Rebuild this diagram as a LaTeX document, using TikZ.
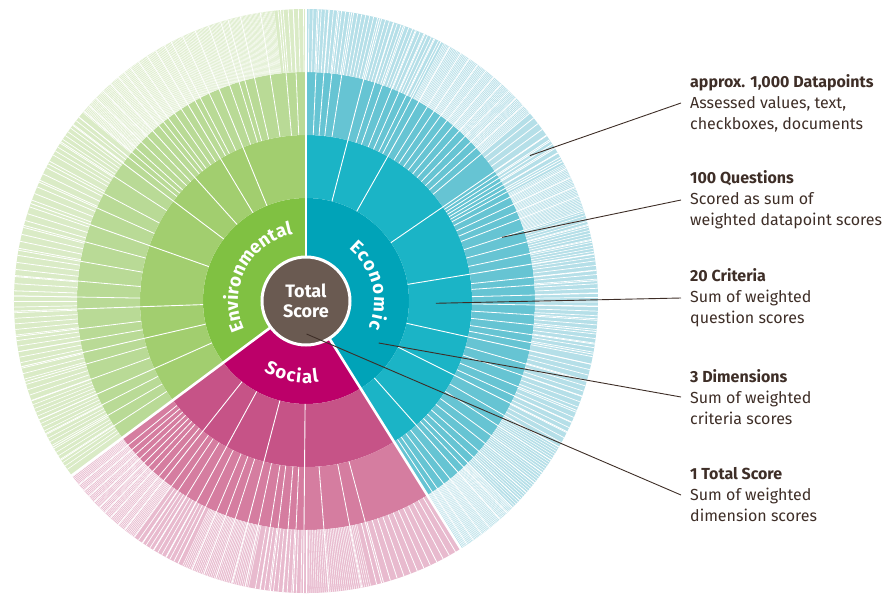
\documentclass[tikz,border=0pt]{standalone}
\usepackage{fontspec}
\setmainfont{Fira Sans}
\usepackage{tikz}
\usetikzlibrary{calc, positioning, decorations.text}
\definecolor{ecoDim}{HTML}{00A3B8}
\definecolor{ecoCrit}{HTML}{1BB4C6}
\definecolor{ecoQuest}{HTML}{66C4D3}
\definecolor{ecoData}{HTML}{B5DFE8}
\definecolor{envDim}{HTML}{80C142}
\definecolor{envCrit}{HTML}{A2CE6F}
\definecolor{envQuest}{HTML}{B9DA96}
\definecolor{envData}{HTML}{DAEBC6}
\definecolor{socDim}{HTML}{BC0069}
\definecolor{socCrit}{HTML}{C65387}
\definecolor{socQuest}{HTML}{D57DA0}
\definecolor{socData}{HTML}{E8BACE}
\definecolor{scorebrown}{HTML}{6A5A51}
\definecolor{inkbrown}{HTML}{3E2E27}
\newcommand{\dimfont}{\bfseries\fontsize{18.5}{18.5}\selectfont}
\newcommand{\ringsector}[5]{% from, to, inner, outer, colour
  \fill[fill=#5] (#1:#3) arc[start angle=#1, end angle=#2, radius=#3]
    -- (#2:#4) arc[start angle=#2, end angle=#1, radius=#4] -- cycle;}

\begin{document}
\begin{tikzpicture}[x=1pt, y=1pt, font=\fontsize{16}{21}\selectfont,
  cut/.style={white, line width=#1},
  lbl/.style={anchor=west, align=left, inner sep=0pt, text=inkbrown},
  leader/.style={inkbrown, line width=0.9pt}]
  \useasboundingbox (-306,-294) rectangle (578,301);
  % rings: dimension, criteria, questions, datapoints
  \foreach \fa/\ta/\dm in {-58/90/eco, 90/216.7/env, -143.3/-58/soc}{
    \ringsector{\fa}{\ta}{30}{103}{\dm Dim}
    \ringsector{\fa}{\ta}{103}{166}{\dm Crit}
    \ringsector{\fa}{\ta}{166}{229}{\dm Quest}
    \ringsector{\fa}{\ta}{229}{292}{\dm Data}
  }
  % datapoint hairlines
  \foreach \fa/\ta/\st/\lw in {-143/-126/0.3/0.45, -125/-116/0.9/0.7, -115/-101/0.35/0.45,
      -100/-91/0.9/0.7, -90/-77/0.4/0.45, -76/-59/1.4/0.8,
      -57.5/-45/0.25/0.45, -44.5/-30/0.5/0.5, -29/-12/1.1/0.7, -11/8/0.9/0.7,
      8.6/18/0.6/0.6, 18.3/28/0.3/0.45, 29/40/1.4/0.8, 40.3/62/0.3/0.45, 63/89.5/0.8/0.7,
      90.5/96/1.0/0.7, 96.3/140/0.25/0.4, 141/150/0.9/0.7, 151.4/178/1.4/0.8,
      179/200/1.1/0.7, 200.8/216/0.8/0.6}{
    \pgfmathsetmacro{\nx}{\fa+\st}
    \foreach \a in {\fa,\nx,...,\ta} \draw[cut=\lw pt] (\a:229) -- (\a:292);
  }
  % question boundaries
  \foreach \a in {87.5, 85.5, 83.5, 81, 72.5, 70.5, 68, 66, 64, 62.5, 58, 56, 54, 52, 50,
      48, 46, 44, 42, 40, 33.5, 32.5, 31.5, 30.5, 29.5, 28.5, 27, 25, 23, 21, 18, 15, 12,
      6, 4, 1.5, -1, -3.5, -6, -8.5, -10.5, -16, -19, -22, -24.5, -30, -33, -36, -38.5,
      -41, -43, -45, -46.5, -51, -53, -55, -56.5,
      92.5, 95, 99, 103, 105.5, 107, 109.5, 115, 117.5, 119, 123, 125, 127, 128.5, 130,
      134, 136, 138, 139.5, 141, 147, 152, 156, 165, 170, 175, 179, 187, 190, 196, 200,
      207, 210, 213,
      -141, -139.5, -138, -136.5, -135, -133.5, -132, -130, -126, -124, -121.5, -116,
      -113, -110.5, -108, -102, -99, -97, -94.5, -92.5, -85.5, -79, -75}
    \draw[cut=0.8pt] (\a:166) -- (\a:292);
  % criteria boundaries
  \foreach \a in {75.4, 60.5, 34.5, 9.3, -12.5, -26.6, -48.4,
      112.3, 121, 132, 143, 160.5, 182, 193, 204,
      -128.4, -118.6, -104.7, -90.5}
    \draw[cut=0.9pt] (\a:103) -- (\a:292);
  % dimension boundaries
  \foreach \a in {90, -58, 216.7}
    \draw[cut=2.6pt] (0,0) -- (\a:294);

  \node[circle, fill=scorebrown, draw=white, line width=3pt, minimum size=88pt,
    inner sep=0pt, text=white, align=center, font=\bfseries\fontsize{18}{20}\selectfont]
    (total) at (0,0) {Total\\Score};

  % curved dimension names
  \path[decorate, decoration={text along path, text={|\dimfont|Environmental},
    text color=white, text align=center}]
    (208:68) arc[start angle=208, end angle=98, radius=68];
  \path[decorate, decoration={text along path, text={|\dimfont|Economic},
    text color=white, text align={fit to path}}]
    (51:68) arc[start angle=51, end angle=-23, radius=68];
  \path[decorate, decoration={text along path, text={|\dimfont|Social},
    text color=white, text align={fit to path}}]
    (-121:82) arc[start angle=-121, end angle=-81, radius=82];

  % labels and leaders
  \coordinate (dpPt) at (33:267);
  \coordinate (qPt) at (18:206);
  \coordinate (cPt) at (-1:130);
  \coordinate (dimPt) at (-30:84);
  \coordinate (totPt) at (0.5,-33);
  \node[lbl] (lblData) at (384,198)
    {\textbf{approx. 1,000 Datapoints}\\Assessed values, text,\\checkboxes, documents};
  \node[lbl] (lblQuest) at (384,101)
    {\textbf{100 Questions}\\Scored as sum of\\weighted datapoint scores};
  \node[lbl] (lblCrit) at (384,3)
    {\textbf{20 Criteria}\\Sum of weighted\\question scores};
  \node[lbl] (lblDim) at (384,-96)
    {\textbf{3 Dimensions}\\Sum of weighted\\criteria scores};
  \node[lbl] (lblTotal) at (384,-194)
    {\textbf{1 Total Score}\\Sum of weighted\\dimension scores};
  \draw[leader] (dpPt) -- ([xshift=-9pt]lblData.west);
  \draw[leader] (qPt) -- ([xshift=-9pt]lblQuest.west);
  \draw[leader] (cPt) -- ([xshift=-9pt]lblCrit.west);
  \draw[leader] (dimPt) -- ([xshift=-9pt]lblDim.west);
  \draw[leader] (totPt) -- ([xshift=-9pt]lblTotal.west);
\end{tikzpicture}
\end{document}
